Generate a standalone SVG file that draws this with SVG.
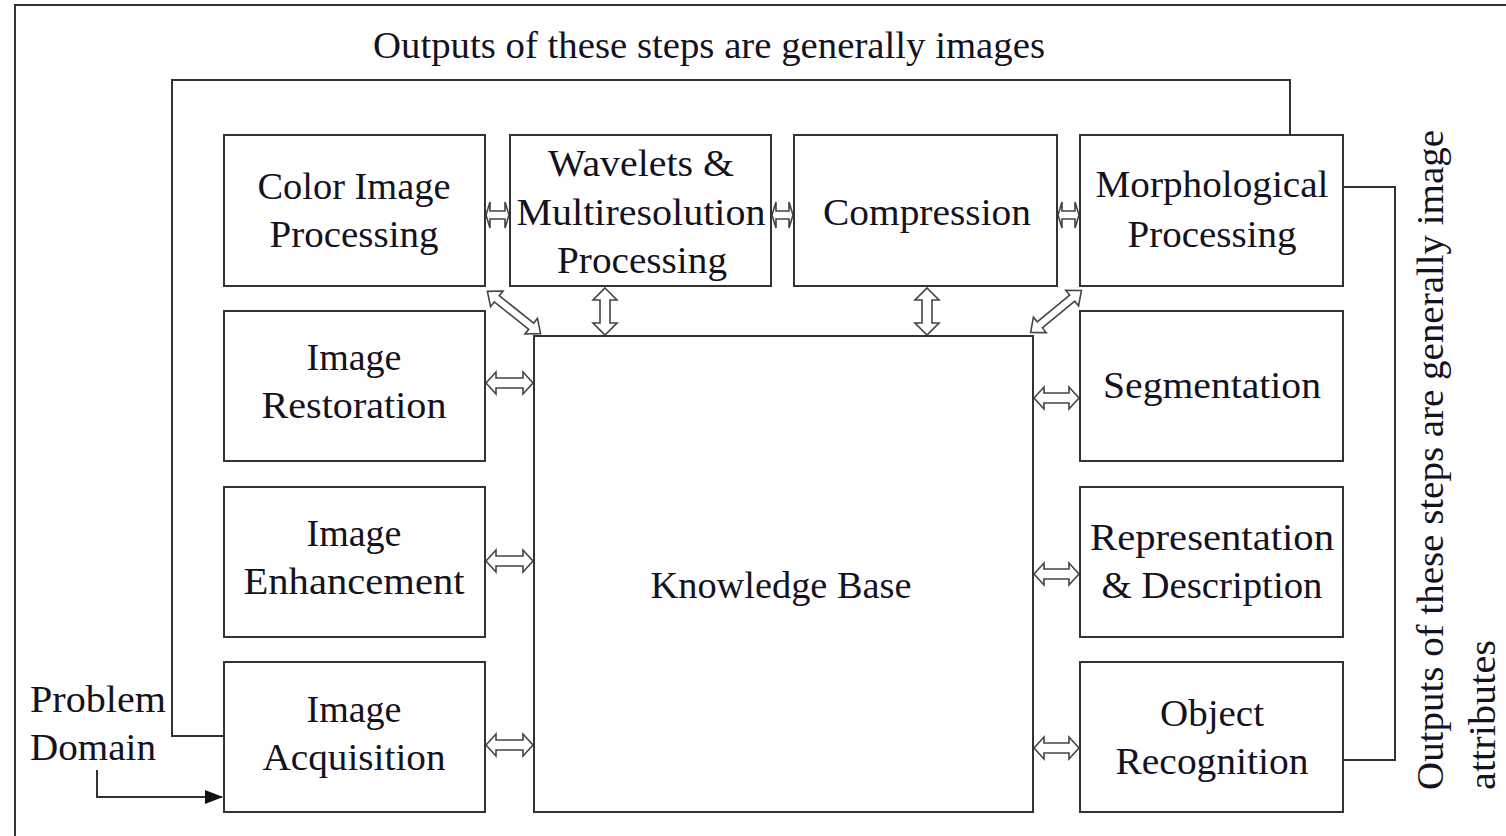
<svg xmlns="http://www.w3.org/2000/svg" width="1506" height="836" viewBox="0 0 1506 836">
<style>
.box{fill:#fff;stroke:#333;stroke-width:2}
.ln{fill:none;stroke:#333;stroke-width:2}
.ba{fill:#fff;stroke:#444;stroke-width:1.6;stroke-linejoin:miter}
text{font-family:"Liberation Serif","Times New Roman",serif;fill:#14121e;font-size:38px}
.c{text-anchor:middle}
</style>
<defs>
<marker id="ah" markerWidth="18" markerHeight="14" refX="17" refY="7" orient="auto" markerUnits="userSpaceOnUse">
<path d="M0,0 L18,7 L0,14 Z" fill="#111"/>
</marker>
</defs>
<rect width="1506" height="836" fill="#fff"/>
<path class="ln" d="M15,840 V5 H1510"/>

<g id="connectors">
<path class="ln" d="M224,736 H172 V80 H1290 V135"/>
<path class="ln" d="M1343,187 H1395 V760 H1343"/>
<path class="ln" d="M97,770 V797 H222" marker-end="url(#ah)"/>
<polygon class="ba" points="486,215 490,202 490,211 505,211 505,202 509,215 505,228 505,219 490,219 490,228"/>
<polygon class="ba" points="772,215 776,202 776,211 789,211 789,202 793,215 789,228 789,219 776,219 776,228"/>
<polygon class="ba" points="1058,215 1062,202 1062,211 1075,211 1075,202 1079,215 1075,228 1075,219 1062,219 1062,228"/>
<polygon class="ba" points="486,383 496,372 496,378 523,378 523,372 533,383 523,394 523,388 496,388 496,394"/>
<polygon class="ba" points="486,561 496,550 496,556 523,556 523,550 533,561 523,572 523,566 496,566 496,572"/>
<polygon class="ba" points="486,745 496,734 496,740 523,740 523,734 533,745 523,756 523,750 496,750 496,756"/>
<polygon class="ba" points="1034,398 1044,387 1044,393 1069,393 1069,387 1079,398 1069,409 1069,403 1044,403 1044,409"/>
<polygon class="ba" points="1034,574 1044,563 1044,569 1069,569 1069,563 1079,574 1069,585 1069,579 1044,579 1044,585"/>
<polygon class="ba" points="1034,748 1044,737 1044,743 1069,743 1069,737 1079,748 1069,759 1069,753 1044,753 1044,759"/>
<polygon class="ba" points="605,288 617,300 610,300 610,323 617,323 605,335 593,323 600,323 600,300 593,300"/>
<polygon class="ba" points="927,288 939,300 932,300 932,323 939,323 927,335 915,323 922,323 922,300 915,300"/>
<polygon class="ba" transform="translate(514,312.5) rotate(38.5)" points="-34,0 -22,-10 -22,-4 22,-4 22,-10 34,0 22,10 22,4 -22,4 -22,10"/>
<polygon class="ba" transform="translate(1056,311.5) rotate(-39.6)" points="-33,0 -21,-10 -21,-4 21,-4 21,-10 33,0 21,10 21,4 -21,4 -21,10"/>
</g>

<g id="color"><rect class="box" x="224" y="135" width="261" height="151"/>
<text class="c" x="354" y="199" textLength="193" lengthAdjust="spacingAndGlyphs">Color Image</text>
<text class="c" x="354" y="247" textLength="169" lengthAdjust="spacingAndGlyphs">Processing</text></g>

<g id="wavelets"><rect class="box" x="510" y="135" width="261" height="151"/>
<text class="c" x="641" y="176" textLength="186" lengthAdjust="spacingAndGlyphs">Wavelets &amp;</text>
<text class="c" x="641" y="225" textLength="249" lengthAdjust="spacingAndGlyphs">Multiresolution</text>
<text class="c" x="642" y="273" textLength="170" lengthAdjust="spacingAndGlyphs">Processing</text></g>

<g id="compression"><rect class="box" x="794" y="135" width="263" height="151"/>
<text class="c" x="927" y="225" textLength="208" lengthAdjust="spacingAndGlyphs">Compression</text></g>

<g id="morph"><rect class="box" x="1080" y="135" width="263" height="151"/>
<text class="c" x="1212" y="197" textLength="233" lengthAdjust="spacingAndGlyphs">Morphological</text>
<text class="c" x="1212" y="247" textLength="169" lengthAdjust="spacingAndGlyphs">Processing</text></g>

<g id="restoration"><rect class="box" x="224" y="311" width="261" height="150"/>
<text class="c" x="354" y="370" textLength="95" lengthAdjust="spacingAndGlyphs">Image</text>
<text class="c" x="354" y="418" textLength="185" lengthAdjust="spacingAndGlyphs">Restoration</text></g>

<g id="enhancement"><rect class="box" x="224" y="487" width="261" height="150"/>
<text class="c" x="354" y="546" textLength="95" lengthAdjust="spacingAndGlyphs">Image</text>
<text class="c" x="354" y="594" textLength="221" lengthAdjust="spacingAndGlyphs">Enhancement</text></g>

<g id="acquisition"><rect class="box" x="224" y="662" width="261" height="150"/>
<text class="c" x="354" y="722" textLength="95" lengthAdjust="spacingAndGlyphs">Image</text>
<text class="c" x="354" y="770" textLength="183" lengthAdjust="spacingAndGlyphs">Acquisition</text></g>

<g id="knowledge"><rect class="box" x="534" y="336" width="499" height="476"/>
<text class="c" x="781" y="598" textLength="261" lengthAdjust="spacingAndGlyphs">Knowledge Base</text></g>

<g id="segmentation"><rect class="box" x="1080" y="311" width="263" height="150"/>
<text class="c" x="1212" y="398" textLength="218" lengthAdjust="spacingAndGlyphs">Segmentation</text></g>

<g id="representation"><rect class="box" x="1080" y="487" width="263" height="150"/>
<text class="c" x="1212" y="550" textLength="244" lengthAdjust="spacingAndGlyphs">Representation</text>
<text class="c" x="1212" y="598" textLength="221" lengthAdjust="spacingAndGlyphs">&amp; Description</text></g>

<g id="recognition"><rect class="box" x="1080" y="662" width="263" height="150"/>
<text class="c" x="1212" y="726" textLength="104" lengthAdjust="spacingAndGlyphs">Object</text>
<text class="c" x="1212" y="774" textLength="193" lengthAdjust="spacingAndGlyphs">Recognition</text></g>

<g id="problem">
<text x="30" y="712" font-size="36" textLength="136" lengthAdjust="spacingAndGlyphs">Problem</text>
<text x="30" y="760" font-size="36" textLength="126" lengthAdjust="spacingAndGlyphs">Domain</text></g>

<g id="labels">
<text x="373" y="58" font-size="34" textLength="672" lengthAdjust="spacingAndGlyphs">Outputs of these steps are generally images</text>
<text transform="translate(1443,790) rotate(-90)" font-size="34" textLength="660" lengthAdjust="spacingAndGlyphs">Outputs of these steps are generally image</text>
<text transform="translate(1495,790) rotate(-90)" font-size="34" textLength="150" lengthAdjust="spacingAndGlyphs">attributes</text>
</g>
</svg>
